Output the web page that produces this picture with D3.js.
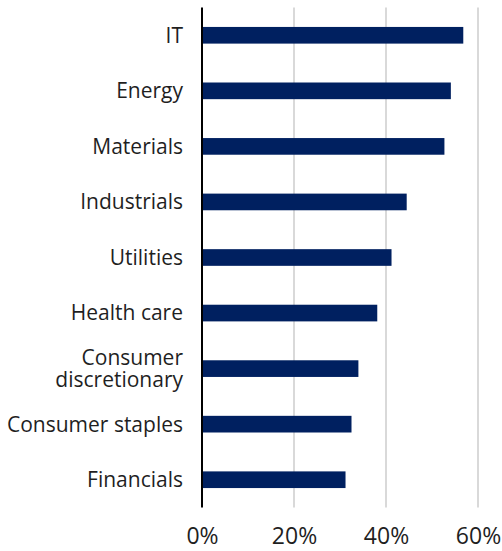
<!DOCTYPE html>
<html>
<head>
<meta charset="utf-8">
<script src="https://cdn.jsdelivr.net/npm/d3@7/dist/d3.min.js"></script>
<style>
  html, body { margin: 0; padding: 0; background: #fff; }
  svg text { font-family: "Open Sans", Lato, sans-serif; fill: #1f1f1f; font-variant-ligatures: none; }
</style>
</head>
<body>
<div id="chart"></div>
<script>
// Sector shares, top to bottom
const sectors = ["IT", "Energy", "Materials", "Industrials", "Utilities",
                 "Health care", "Consumer\ndiscretionary", "Consumer staples", "Financials"];
const shares = [56.8, 54.1, 52.7, 44.5, 41.2, 38.1, 34.0, 32.5, 31.2];
const xTicks = [0, 20, 40, 60];

const W = 502, H = 551;
const margin = { top: 7.5, right: 24, bottom: 43.5, left: 202 };

const svg = d3.select("#chart").append("svg")
  .attr("width", W).attr("height", H);

const x = d3.scaleLinear().domain([0, 60]).range([margin.left, 478]);
const y = d3.scaleBand().domain(sectors)
  .range([margin.top, H - margin.bottom]).paddingInner(0.7).paddingOuter(0.35);

// vertical gridlines
svg.append("g").selectAll("line").data(xTicks.filter(d => d > 0)).join("line")
  .attr("x1", d => x(d)).attr("x2", d => x(d))
  .attr("y1", margin.top).attr("y2", H - margin.bottom)
  .attr("stroke", "#d9d9d9").attr("stroke-width", 2);

// bars
svg.append("g").selectAll("rect").data(sectors).join("rect")
  .attr("x", x(0))
  .attr("y", d => y(d))
  .attr("width", (d, i) => x(shares[i]) - x(0))
  .attr("height", y.bandwidth())
  .attr("fill", "#002060");

// category axis line
svg.append("line")
  .attr("x1", x(0)).attr("x2", x(0))
  .attr("y1", margin.top).attr("y2", H - margin.bottom)
  .attr("stroke", "#000").attr("stroke-width", 2);

// category labels, one text element per line
const fs = 21, lineGap = 22;
const labelRows = sectors.flatMap(d => {
  const lines = d.split("\n");
  const c = y(d) + y.bandwidth() / 2;
  return lines.map((s, k) => ({ s, cy: c + (k - (lines.length - 1) / 2) * lineGap }));
});
svg.append("g").selectAll("text").data(labelRows).join("text")
  .attr("text-anchor", "end")
  .attr("font-size", fs)
  .attr("x", 183)
  .attr("y", r => r.cy)
  .attr("dy", "0.35em")
  .text(r => r.s);

// value axis tick labels
const xAxis = d3.axisBottom(x).tickValues(xTicks).tickFormat(d => d + "%").tickSize(0).tickPadding(0);
const gx = svg.append("g").attr("transform", `translate(0,${H - margin.bottom})`).call(xAxis);
gx.select(".domain").remove();
gx.selectAll("text")
  .attr("font-size", 23)
  .attr("font-family", "'Open Sans', Lato, sans-serif")
  .attr("fill", "#1f1f1f")
  .attr("dy", "0.71em")
  .attr("y", 20);
</script>
</body>
</html>
